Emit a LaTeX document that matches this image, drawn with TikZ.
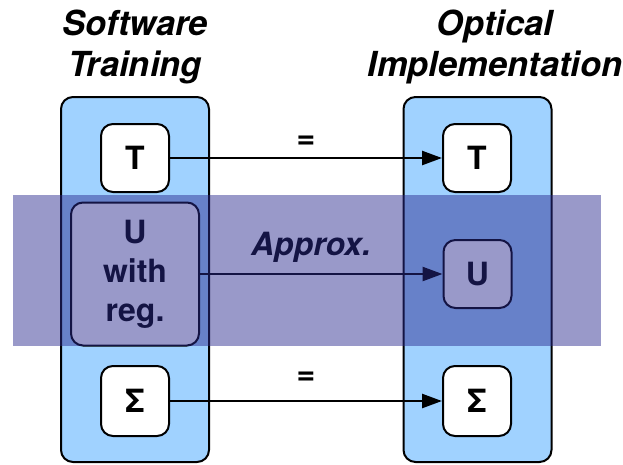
\documentclass[tikz,border=0pt]{standalone}
\usepackage{fontspec}
\setmainfont{TeX Gyre Heros}
\usetikzlibrary{arrows.meta}
\definecolor{colfill}{RGB}{160,210,255}
\definecolor{bandcol}{RGB}{42,42,143}
\begin{document}
\begin{tikzpicture}[x=1pt,y=-1pt,
  column/.style={draw=black,line width=2pt,fill=colfill,rounded corners=12pt,
    minimum width=148pt,minimum height=365pt,inner sep=0pt},
  opbox/.style={draw=black,line width=2pt,fill=white,rounded corners=12pt,
    minimum width=68pt,minimum height=68pt,inner sep=0pt,
    font=\fontsize{32}{39}\selectfont\bfseries,align=center},
  flow/.style={line width=2.5pt,-{Triangle[length=20pt,width=14pt]}},
  title/.style={font=\fontsize{34.5}{41}\selectfont\bfseries\itshape,align=center,inner sep=0pt},
  tag/.style={font=\fontsize{32}{39}\selectfont\bfseries,inner sep=0pt}]
\useasboundingbox (0,0) rectangle (623,464);

% column titles
\node[title,anchor=north] (sw) at (135,10) {Software\\Training};
\node[title,anchor=north] (oi) at (495,10) {Optical\\Implementation};

% the two columns
\node[column] (colL) at (135,279.5) {};
\node[column] (colR) at (477.5,279.5) {};

% operator boxes
\node[opbox] (tL) at (135,158) {T};
\node[opbox] (tR) at (477,158) {T};
\node[opbox,minimum width=128pt,minimum height=143pt] (uL) at (135,274) {U\\with\\reg.};
\node[opbox] (uR) at (477.5,274) {U};
\node[opbox,minimum height=70pt] (sL) at (135,401) {Σ};
\node[opbox,minimum height=70pt] (sR) at (477,401) {Σ};

% connectors
\draw[flow] (tL) -- (tR);
\draw[flow] (uL) -- (uR);
\draw[flow] (sL) -- (sR);

% connector labels
\node[tag] (eq1) at (306,142) {=};
\node[tag,font=\fontsize{32}{39}\selectfont\bfseries\itshape,anchor=base] (ap) at (311,255) {Approx.};
\node[tag] (eq2) at (306,378) {=};

% translucent band over the middle row
\fill[bandcol,fill opacity=0.48] (13,195) rectangle (601,346);
\end{tikzpicture}
\end{document}
